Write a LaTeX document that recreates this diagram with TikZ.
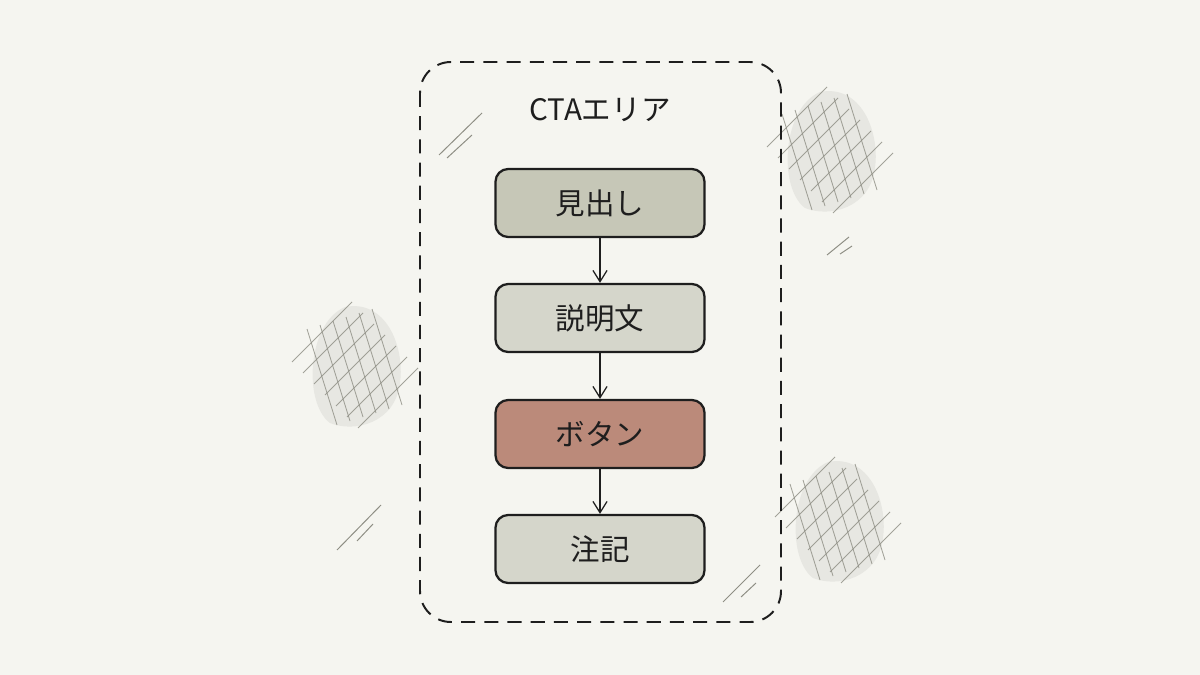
\documentclass[tikz,border=0pt]{standalone}
\usepackage{fontspec}
\setmainfont{Noto Sans CJK JP}
\usepackage{tikz}
\usetikzlibrary{arrows.meta,positioning,calc,backgrounds}

\definecolor{paper}{HTML}{F5F5F0}
\definecolor{ink}{HTML}{1E1E1E}
\definecolor{sage}{HTML}{C6C7B7}
\definecolor{mist}{HTML}{D5D6CB}
\definecolor{clay}{HTML}{BB8A7A}
\definecolor{smudge}{HTML}{E7E7E2}
\definecolor{pencil}{HTML}{8E8E84}

\newcommand{\hatchpatch}[2]{%
  \begin{scope}[shift={(#1,#2)}]
    \fill[smudge] (-10,-58) .. controls (30,-66) and (50,-20) .. (45,18)
      .. controls (40,58) and (0,68) .. (-25,58)
      .. controls (-52,38) and (-48,-42) .. (-10,-58) -- cycle;
    \foreach \i in {-3,...,3}
      \draw[hatch] ($(\i*11,\i*11)+(-30,30)$) -- ($(\i*11,\i*11)+(30,-30)$);
    \foreach \j in {-3,...,2}
      \draw[hatch] ($(\j*13+6,-\j*4)+(-15,-48)$) -- ($(\j*13+6,-\j*4)+(15,48)$);
  \end{scope}}

\begin{document}
\begin{tikzpicture}[x=0.025cm, y=-0.025cm,
    every node/.style={font=\fontsize{21}{25}\selectfont, text=ink},
    part/.style={draw=ink, line width=1.6pt, rounded corners=9pt,
      minimum width=209*0.025cm, minimum height=68*0.025cm, inner sep=0pt},
    area/.style={draw=ink, line width=1.4pt, dash pattern=on 10pt off 6.5pt,
      rounded corners=22pt},
    flow/.style={-{Straight Barb[length=8pt,width=10pt]}, draw=ink, line width=0.9pt},
    hatch/.style={draw=pencil, line width=0.6pt, opacity=0.8},
    slash/.style={draw=pencil, line width=0.7pt}]
		\useasboundingbox[fill=paper] (0,0) rectangle (1200,675);

		% smudges and hatching
		\hatchpatch{355}{365}
		\hatchpatch{830}{150}
		\hatchpatch{838}{520}
		\draw[slash] (439,155) -- (482,113);
		\draw[slash] (447,158) -- (472,135);
		\draw[slash] (827,255) -- (849,237);
		\draw[slash] (840,254) -- (852,246);
		\draw[slash] (337,550) -- (381,505);
		\draw[slash] (357,541) -- (373,524);
		\draw[slash] (723,602) -- (760,565);
		\draw[slash] (741,597) -- (756,583);

		\draw[area] (420,62) rectangle (781,622);
		\node (title) at (600,110) {CTAエリア};

		\node[part, fill=sage] (head) at (600,203) {見出し};
		\node[part, fill=mist] (desc) at (600,318) {説明文};
		\node[part, fill=clay] (button) at (600,434) {ボタン};
		\node[part, fill=mist] (note) at (600,549) {注記};

		\path[flow] (head) edge (desc);
		\path[flow] (desc) edge (button);
		\path[flow] (button) edge (note);
\end{tikzpicture}
\end{document}
